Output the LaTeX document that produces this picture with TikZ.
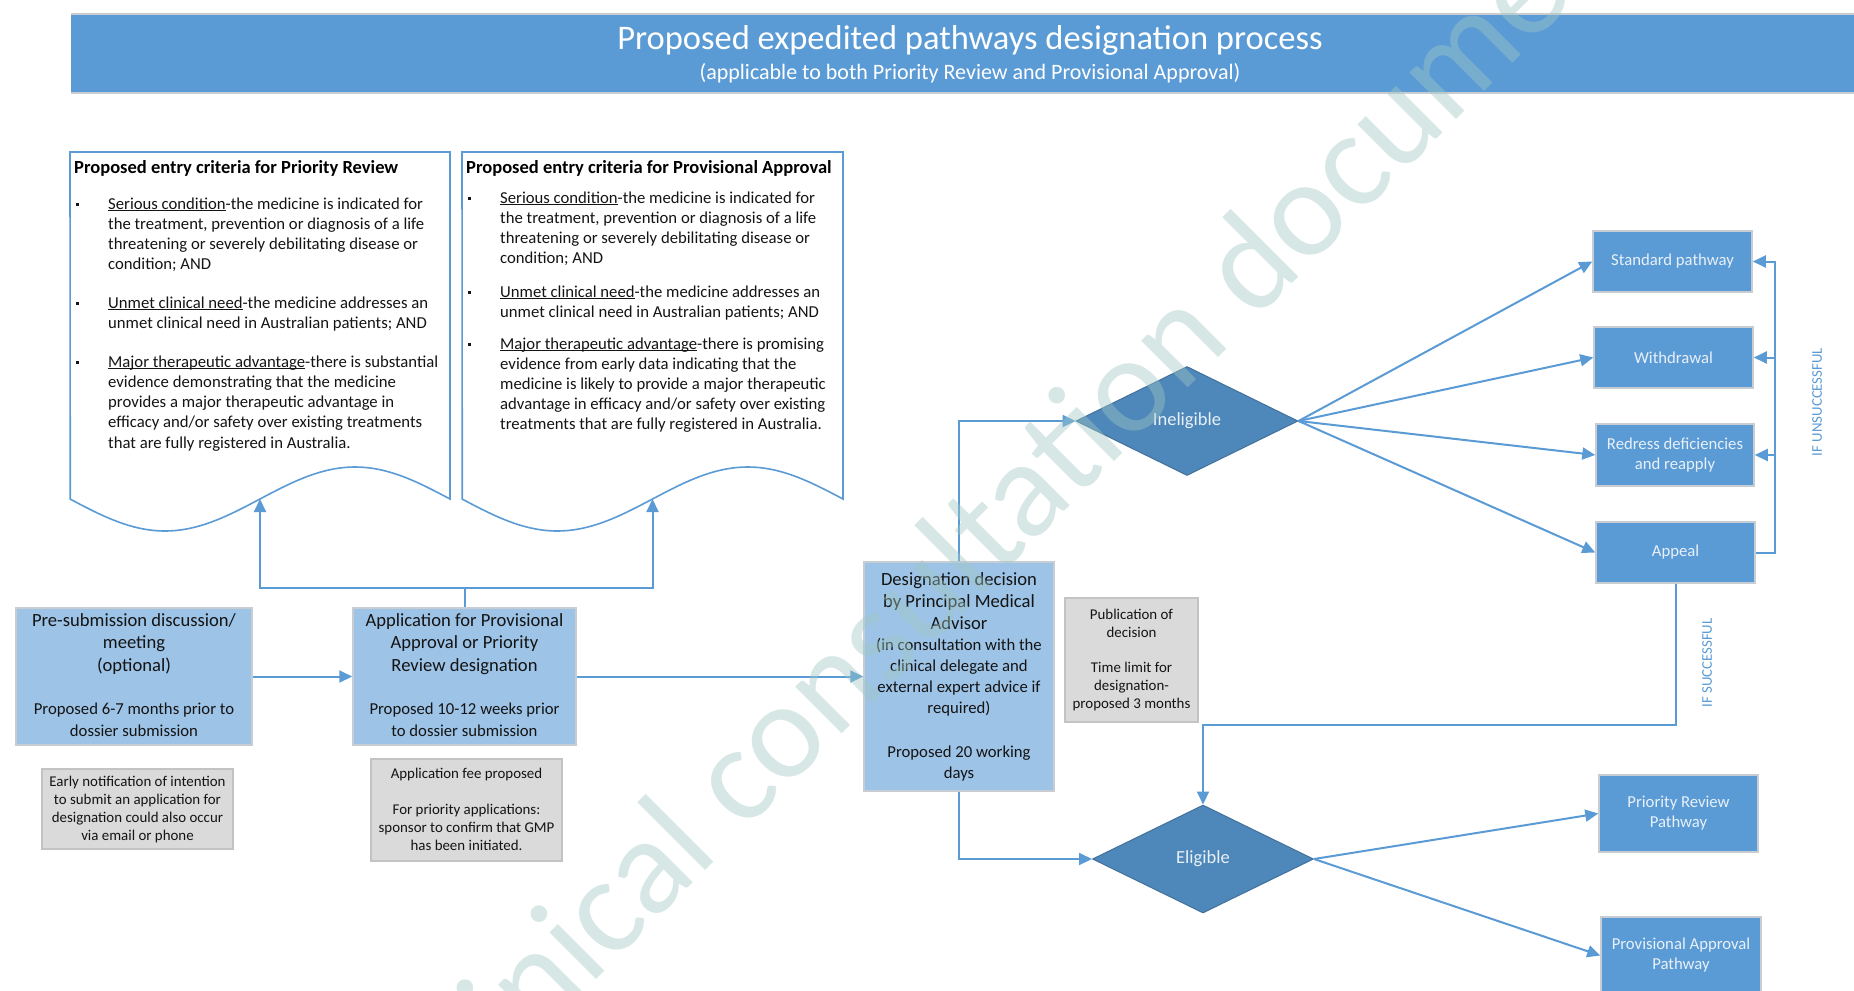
\documentclass[tikz,border=0pt]{standalone}
\usepackage{fontspec}
\setmainfont{Carlito}
\usetikzlibrary{arrows.meta,shapes.geometric}
\definecolor{accent}{RGB}{91,155,213}
\definecolor{lightblue}{RGB}{157,195,230}
\definecolor{boxgray}{RGB}{200,205,212}
\definecolor{notegray}{RGB}{218,218,218}
\definecolor{noteborder}{RGB}{195,195,195}
\definecolor{diamondblue}{RGB}{78,135,185}
\definecolor{diamondborder}{RGB}{65,113,156}
\definecolor{wmark}{RGB}{160,200,196}
\definecolor{textdark}{RGB}{20,20,20}
\definecolor{lighttext}{RGB}{232,240,248}
\newcommand\ulx[1]{\leavevmode\setbox0\hbox{#1}\rlap{\rule[-2.2pt]{\wd0}{0.8pt}}\box0}
\newcommand\bulletsq{\rule[3.5pt]{3pt}{3pt}}
\begin{document}
\begin{tikzpicture}[x=1pt,y=-1pt,
  conn/.style={draw=accent, line width=2pt},
  arr/.style={conn, -{Triangle[length=13pt,width=12pt]}},
  docline/.style={draw=accent, line width=1.6pt, fill=white},
  lbox/.style={rectangle, fill=lightblue, draw=boxgray, line width=1.5pt, inner sep=0},
  nbox/.style={rectangle, fill=notegray, draw=noteborder, line width=1.5pt, inner sep=0},
  dbox/.style={rectangle, fill=accent, draw=boxgray, line width=1.5pt, inner sep=0, text=lighttext, align=center, font=\fontsize{16.7}{20}\selectfont},
  dia/.style={diamond, fill=diamondblue, draw=diamondborder, line width=1pt, inner sep=0, text=lighttext, font=\fontsize{18.5}{22}\selectfont},
  txt/.style={inner sep=0, anchor=base, text=textdark},
  para/.style={inner sep=0, anchor=base west, text=textdark, font=\fontsize{16.7}{20.3}\selectfont},
  blt/.style={inner sep=0, anchor=base west, text=textdark},
  doctitle/.style={inner sep=0, anchor=base west, text=black, font=\bfseries\fontsize{18.5}{22}\selectfont},
  iflabel/.style={rotate=90, text=accent, font=\fontsize{14.8}{17}\selectfont, inner sep=0},
]
\useasboundingbox (0,0) rectangle (1854,990);
\clip (0,0) rectangle (1854,990);
\fill[white] (0,0) rectangle (1854,990);

% title bar
\fill[accent] (71,14) rectangle (1870,93);
\draw[boxgray, line width=1.5pt] (71,14) -- (1870,14) (71,93) -- (1870,93);
\node[inner sep=0, anchor=base, text=white, font=\fontsize{34.5}{38}\selectfont] (title) at (970,50) {Proposed expedited pathways designation process};
\node[inner sep=0, anchor=base, text=white, font=\fontsize{22}{26}\selectfont] (subtitle) at (970,79) {(applicable to both Priority Review and Provisional Approval)};

% document shapes
\draw[docline] (70,152) -- (450,152) -- (450,499) -- plot[domain=1:0, samples=80] ({70+380*\x},{499+32*sin(360*\x)}) -- cycle;
\draw[docline] (462,152) -- (843,152) -- (843,499) -- plot[domain=1:0, samples=80] ({462+381*\x},{499+32*sin(360*\x)}) -- cycle;
\coordinate (prwave) at (260,499);
\coordinate (pawave) at (652.5,499);

\node[doctitle] (prtitle) at (74,173) {Proposed entry criteria for Priority Review};
\node[blt] (prb1) at (76,209) {\bulletsq};
\node[para] (prp1) at (108,209) {\parbox[t]{340pt}{\raggedright \ulx{Serious condition}-the medicine is indicated for\\the treatment, prevention or diagnosis of a life\\threatening or severely debilitating disease or\\condition; AND}};
\node[blt] (prb2) at (76,308) {\bulletsq};
\node[para] (prp2) at (108,308) {\parbox[t]{340pt}{\raggedright \ulx{Unmet clinical need}-the medicine addresses an\\unmet clinical need in Australian patients; AND}};
\node[blt] (prb3) at (76,367) {\bulletsq};
\node[para] (prp3) at (108,367) {\parbox[t]{340pt}{\raggedright \ulx{Major therapeutic advantage}-there is substantial\\evidence demonstrating that the medicine\\provides a major therapeutic advantage in\\efficacy and/or safety over existing treatments\\that are fully registered in Australia.}};

\node[doctitle] (patitle) at (466,173) {Proposed entry criteria for Provisional Approval};
\node[blt] (pab1) at (468,203) {\bulletsq};
\node[para, font=\fontsize{16.7}{20}\selectfont] (pap1) at (500,203) {\parbox[t]{340pt}{\raggedright \ulx{Serious condition}-the medicine is indicated for\\the treatment, prevention or diagnosis of a life\\threatening or severely debilitating disease or\\condition; AND}};
\node[blt] (pab2) at (468,297) {\bulletsq};
\node[para, font=\fontsize{16.7}{20}\selectfont] (pap2) at (500,297) {\parbox[t]{340pt}{\raggedright \ulx{Unmet clinical need}-the medicine addresses an\\unmet clinical need in Australian patients; AND}};
\node[blt] (pab3) at (468,349) {\bulletsq};
\node[para, font=\fontsize{16.7}{20}\selectfont] (pap3) at (500,349) {\parbox[t]{340pt}{\raggedright \ulx{Major therapeutic advantage}-there is promising\\evidence from early data indicating that the\\medicine is likely to provide a major therapeutic\\advantage in efficacy and/or safety over existing\\treatments that are fully registered in Australia.}};

% left process boxes
\node[lbox, minimum width=236pt, minimum height=137pt] (presub) at (134,676.5) {};
\node[txt] (presubtxt) at (134,626.5) {\parbox[t]{300pt}{\centering{\fontsize{18.6}{22.3}\selectfont Pre-submission discussion/\\meeting\\(optional)\par}\vspace{20.4pt}{\fontsize{16.7}{22.5}\selectfont Proposed 6-7 months prior to\\dossier submission\par}}};
\node[lbox, minimum width=223pt, minimum height=137pt] (app) at (464.5,676.5) {};
\node[txt] (apptxt) at (464.5,626.5) {\parbox[t]{300pt}{\centering{\fontsize{18.6}{22.3}\selectfont Application for Provisional\\Approval or Priority\\Review designation\par}\vspace{20.4pt}{\fontsize{16.7}{22.5}\selectfont Proposed 10-12 weeks prior\\to dossier submission\par}}};

\node[nbox, minimum width=191pt, minimum height=80pt] (note1) at (137.5,809) {};
\node[txt] (note1txt) at (137.5,786.5) {\parbox[t]{300pt}{\centering\fontsize{14.9}{18}\selectfont Early notification of intention\\to submit an application for\\designation could also occur\\via email or phone}};
\node[nbox, minimum width=191pt, minimum height=102pt] (note2) at (466.5,810) {};
\node[txt] (note2txt) at (466.5,778.5) {\parbox[t]{300pt}{\centering\fontsize{14.9}{18}\selectfont Application fee proposed\par\vspace{18pt}For priority applications:\\sponsor to confirm that GMP\\has been initiated.}};

% decision
\node[lbox, minimum width=190pt, minimum height=229pt] (dec) at (959,676.5) {};
\node[txt] (dectxt) at (959,585.5) {\parbox[t]{300pt}{\centering{\fontsize{18.6}{22}\selectfont Designation decision\\by Principal Medical\\Advisor\par}{\fontsize{16.7}{21}\selectfont (in consultation with the\\clinical delegate and\\external expert advice if\\required)\par}\vspace{22.5pt}{\fontsize{16.7}{21}\selectfont Proposed 20 working\\days\par}}};
\node[nbox, minimum width=133pt, minimum height=124pt] (note3) at (1131.5,660) {};
\node[txt] (note3txt) at (1131.5,619.5) {\parbox[t]{300pt}{\centering\fontsize{14.9}{18}\selectfont Publication of\\decision\par\vspace{17pt}Time limit for\\designation-\\proposed 3 months}};

% diamonds
\node[dia, minimum width=222pt, minimum height=109pt] (inel) at (1187,421) {Ineligible};
\node[dia, minimum width=221pt, minimum height=108pt] (elig) at (1203,859) {Eligible};

% right boxes
\node[dbox, minimum width=159pt, minimum height=61pt] (std) at (1672.5,261.5) {Standard pathway};
\node[dbox, minimum width=159pt, minimum height=61pt] (wd) at (1673.5,357.5) {Withdrawal};
\node[dbox, minimum width=158pt, minimum height=62pt] (red) at (1675,455) {Redress deficiencies\\and reapply};
\node[dbox, minimum width=159pt, minimum height=61pt] (appeal) at (1675.5,552.5) {Appeal};
\node[dbox, minimum width=159pt, minimum height=77pt] (prio) at (1678.5,813.5) {Priority Review\\Pathway};
\node[dbox, minimum width=160pt, minimum height=77pt] (prov) at (1681,955.5) {Provisional Approval\\Pathway};

\node[iflabel] (unsucc) at (1817,402) {IF UNSUCCESSFUL};
\node[iflabel] (succ) at (1707,663) {IF SUCCESSFUL};

% connectors
\draw[arr] (presub.east) -- (app.west);
\draw[arr] (app.east) -- (dec.west);
\coordinate (split) at (464.5,588);
\draw[conn] (app.north) -- (split);
\draw[arr] (split) -| (prwave);
\draw[arr] (split) -| (pawave);
\draw[arr] (dec.north) |- (inel.west);
\draw[arr] (dec.south) |- (elig.west);
\draw[arr] (inel.east) -- (std.west);
\draw[arr] (inel.east) -- (wd.west);
\draw[arr] (inel.east) -- (red.west);
\draw[arr] (inel.east) -- (appeal.west);
\coordinate (rb) at (1775,0);
\draw[arr] (appeal.east) -- (appeal.east -| rb) |- (std.east);
\draw[arr] (wd.east -| rb) -- (wd.east);
\draw[arr] (red.east -| rb) -- (red.east);
\coordinate (sy) at (0,725);
\draw[arr] (appeal.south) -- (appeal.south |- sy) -| (elig.north);
\draw[arr] (elig.east) -- (prio.west);
\draw[arr] (elig.east) -- (prov.west);

% watermark
\node[rotate=45, inner sep=0, text=wmark, text opacity=0.42, font=\fontsize{138}{150}\selectfont] (wm) at (1017,492) {Clinical consultation document};
\end{tikzpicture}
\end{document}
